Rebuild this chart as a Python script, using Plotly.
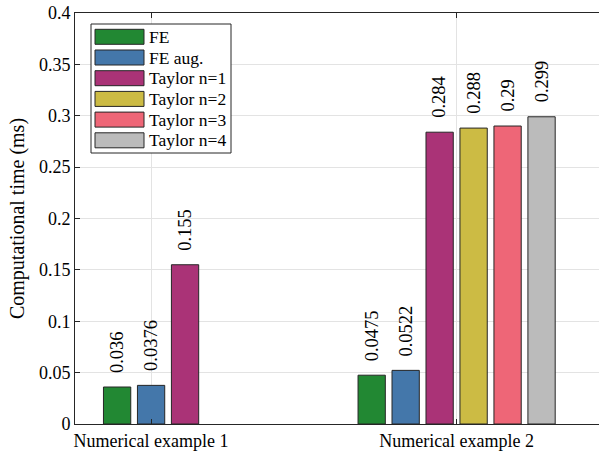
import plotly.graph_objects as go

# ---- data ----
categories = ["Numerical example 1", "Numerical example 2"]
series_names = ["FE", "FE aug.", "Taylor n=1", "Taylor n=2", "Taylor n=3", "Taylor n=4"]
series_colors = ["#228833", "#4477AA", "#AA3377", "#CCBB44", "#EE6677", "#BBBBBB"]
fe = [0.036, 0.0475]
fe_aug = [0.0376, 0.0522]
taylor_1 = [0.155, 0.284]
taylor_2 = [None, 0.288]
taylor_3 = [None, 0.29]
taylor_4 = [None, 0.299]
series_values = [fe, fe_aug, taylor_1, taylor_2, taylor_3, taylor_4]
y_ticks = [0, 0.05, 0.1, 0.15, 0.2, 0.25, 0.3, 0.35, 0.4]

# ---- layout constants ----
FIG_W, FIG_H = 599, 457
M_L, M_R, M_T, M_B = 75, 0, 13, 33
PLOT_W = FIG_W - M_L - M_R
PLOT_H = FIG_H - M_T - M_B
BAR_STEP = 0.1112      # distance between neighbouring bars in a group (x units)
BAR_WIDTH = 0.0893
EDGE = "#262626"
FONT = "Liberation Serif, Times New Roman, serif"


def px_to_paper(px, py):
    return (px - M_L) / PLOT_W, (FIG_H - M_B - py) / PLOT_H


# Bars present in each group are centred on the group's tick
present = [sum(1 for s in series_values if s[g] is not None) for g in range(len(categories))]

fig = go.Figure()
annotations = []
for i, (name, color, vals) in enumerate(zip(series_names, series_colors, series_values)):
    xs, ys = [], []
    for g, v in enumerate(vals):
        if v is None:
            continue
        x = g + (i - (present[g] - 1) / 2) * BAR_STEP
        xs.append(x)
        ys.append(v)
        annotations.append(dict(
            x=x, y=v, xref="x", yref="y", text=f"{v:g}", textangle=-90,
            showarrow=False, xanchor="center", yanchor="bottom", yshift=12,
            font=dict(family=FONT, size=18.5, color="#000000"),
        ))
    fig.add_trace(go.Bar(
        x=xs, y=ys, width=BAR_WIDTH, name=name, showlegend=False,
        marker=dict(color=color, line=dict(color=EDGE, width=1)),
    ))

# Legend box drawn in paper space
shapes = []
bx0, by0 = px_to_paper(91, 24)
bx1, by1 = px_to_paper(231, 153)
shapes.append(dict(type="rect", xref="paper", yref="paper", x0=bx0, y0=by1, x1=bx1, y1=by0,
                   line=dict(color=EDGE, width=1), fillcolor="white", layer="above"))
row0, row_gap = 36.8, 20.7
for k, (name, color) in enumerate(zip(series_names, series_colors)):
    cy = row0 + k * row_gap
    sx0, sy0 = px_to_paper(95, cy - 7.5)
    sx1, sy1 = px_to_paper(144, cy + 7.5)
    shapes.append(dict(type="rect", xref="paper", yref="paper", x0=sx0, y0=sy1, x1=sx1, y1=sy0,
                       line=dict(color=EDGE, width=1), fillcolor=color, layer="above"))
    tx, ty = px_to_paper(147, cy)
    annotations.append(dict(x=tx, y=ty, xref="paper", yref="paper", text=name, showarrow=False,
                            xanchor="left", yanchor="middle",
                            font=dict(family=FONT, size=17.5, color="#000000")))

fig.update_layout(
    width=FIG_W, height=FIG_H,
    margin=dict(l=M_L, r=M_R, t=M_T, b=M_B, pad=0),
    plot_bgcolor="white", paper_bgcolor="white",
    barmode="overlay",
    font=dict(family=FONT, color="#000000"),
    shapes=shapes, annotations=annotations,
    xaxis=dict(
        range=[-0.249, 1.466], tickvals=list(range(len(categories))), ticktext=categories,
        ticks="inside", ticklen=5, tickcolor=EDGE, showline=True, linecolor=EDGE, linewidth=1,
        mirror="ticks", showgrid=True, gridcolor="#e3e3e3", gridwidth=1, zeroline=False,
        tickfont=dict(family=FONT, size=18, color="#000000"),
    ),
    yaxis=dict(
        range=[0, 0.4], tickvals=y_ticks, ticktext=[f"{t:g}" for t in y_ticks],
        ticks="inside", ticklen=5, tickcolor=EDGE, showline=True, linecolor=EDGE, linewidth=1,
        showgrid=True, gridcolor="#e3e3e3", gridwidth=1, zeroline=False,
        tickfont=dict(family=FONT, size=18, color="#000000"),
        title=dict(text="Computational time (ms)", font=dict(family=FONT, size=20, color="#000000"),
                   standoff=8),
    ),
    yaxis2=dict(
        overlaying="y", side="right", matches="y", range=[0, 0.4], tickvals=y_ticks,
        ticks="inside", ticklen=5, tickcolor=EDGE, showticklabels=False,
        showgrid=False, showline=False, zeroline=False,
    ),
)

fig.write_html("out.html")
